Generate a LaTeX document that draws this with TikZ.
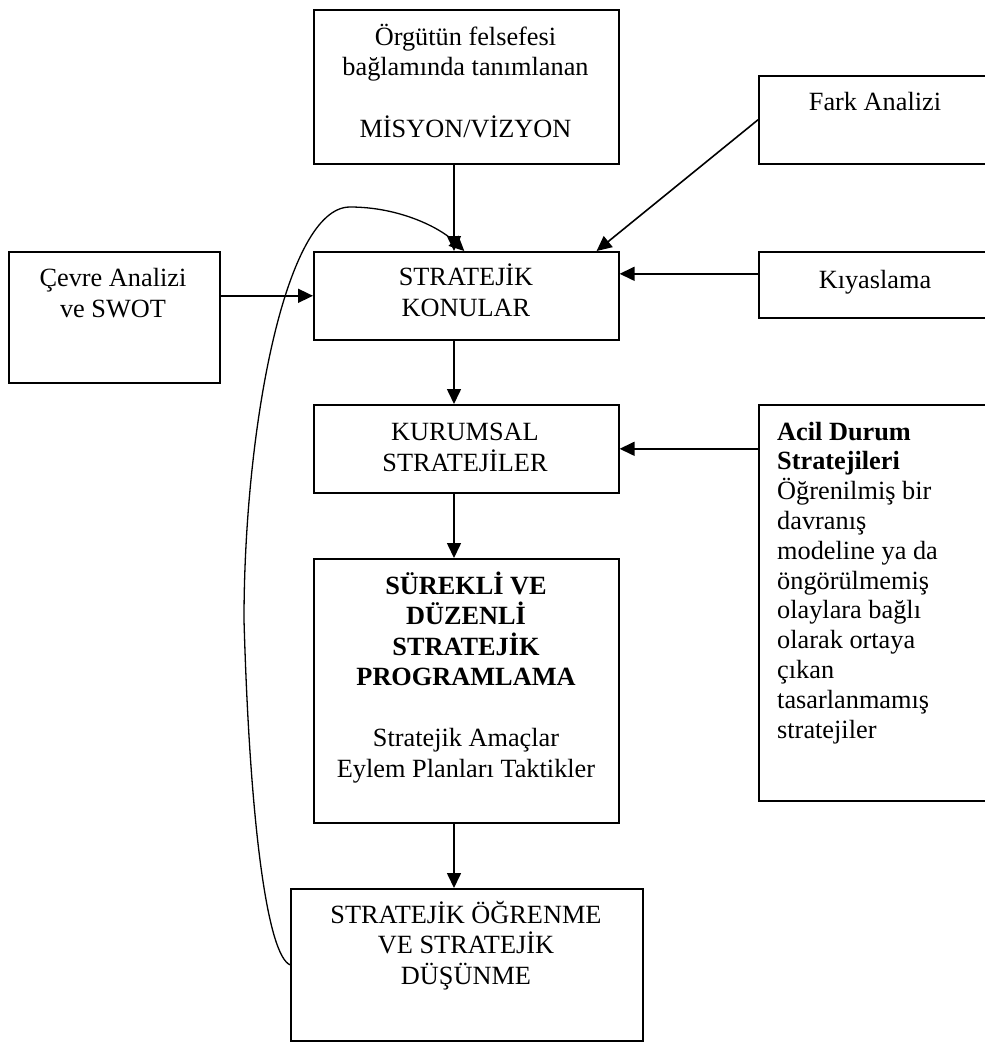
\documentclass[tikz,border=0pt]{standalone}
\usepackage{fontspec}
\setmainfont{Liberation Serif}
\usetikzlibrary{arrows.meta}
\begin{document}
\begin{tikzpicture}[x=1pt,y=-1pt,
  box/.style={draw, line width=1.6pt, inner sep=0pt, rectangle, anchor=north west},
  txt/.style={inner sep=0pt, align=center, font=\fontsize{26.3}{30.5}\selectfont, anchor=base},
  arr/.style={line width=1.6pt, -{Triangle[length=15pt,width=14pt]}},
]
\useasboundingbox (0,0) rectangle (985,1042);
% boxes
\node[box, minimum width=305pt, minimum height=154pt] (mis) at (313,9) {};
\node[box, minimum width=235pt, minimum height=88pt] (fark) at (758,75) {};
\node[box, minimum width=211pt, minimum height=131pt] (cevre) at (8,251) {};
\node[box, minimum width=305pt, minimum height=88pt] (konu) at (313,251) {};
\node[box, minimum width=235pt, minimum height=66pt] (kiy) at (758,251) {};
\node[box, minimum width=305pt, minimum height=88pt] (kur) at (313,404) {};
\node[box, minimum width=235pt, minimum height=396pt] (acil) at (758,404) {};
\node[box, minimum width=305pt, minimum height=264pt] (surek) at (313,558) {};
\node[box, minimum width=352pt, minimum height=152pt] (ogren) at (290,888) {};
% texts (anchor = baseline of last line)
\node[txt] (tmis) at (465.5,137) {Örgütün felsefesi\\bağlamında tanımlanan\\[31pt]MİSYON/VİZYON};
\node[txt] (tfark) at (875,110) {Fark Analizi};
\node[txt] (tkiy) at (875,288) {Kıyaslama};
\node[txt] (tcevre) at (113,317) {Çevre Analizi\\ve SWOT};
\node[txt] (tkonu) at (466,316) {STRATEJİK\\KONULAR};
\node[txt] (tkur) at (465,471) {KURUMSAL\\STRATEJİLER};
\node[txt] (tsurek) at (466,777) {\textbf{SÜREKLİ VE}\\\textbf{DÜZENLİ}\\\textbf{STRATEJİK}\\\textbf{PROGRAMLAMA}\\[30.5pt]Stratejik Amaçlar\\Eylem Planları Taktikler};
\node[txt] (togren) at (466,984) {STRATEJİK ÖĞRENME\\VE STRATEJİK\\DÜŞÜNME};
\node[txt, anchor=base west, align=left, font=\fontsize{26.3}{29.8}\selectfont] (tacil) at (777,738) {\textbf{Acil Durum}\\\textbf{Stratejileri}\\Öğrenilmiş bir\\davranış\\modeline ya da\\öngörülmemiş\\olaylara bağlı\\olarak ortaya\\çıkan\\tasarlanmamış\\stratejiler};
% connectors
\coordinate (ax) at (454,0);
\draw[arr] (mis.south -| ax) -- (konu.north -| ax);
\draw[arr] (fark.west) -- ([xshift=-23pt]konu.north east);
\draw[arr] (konu.west -| cevre.east) -- (konu.west);
\draw[arr] ([yshift=11pt]kiy.west) -- ([yshift=11pt]kiy.west -| konu.east);
\draw[arr] (kur.east -| acil.west) -- (kur.east);
\draw[arr] (konu.south -| ax) -- (kur.north -| ax);
\draw[arr] (kur.south -| ax) -- (surek.north -| ax);
\draw[arr] (surek.south -| ax) -- (ogren.north -| ax);
\draw[line width=1.3pt, -{Triangle[length=15pt,width=14pt]}] (ogren.west) .. controls (268,955) and (250,830) .. (244,620) .. controls (244,430) and (285,207) .. (350,207) .. controls (400,207) and (440,228) .. ([xshift=-2pt]konu.north);
\end{tikzpicture}
\end{document}
